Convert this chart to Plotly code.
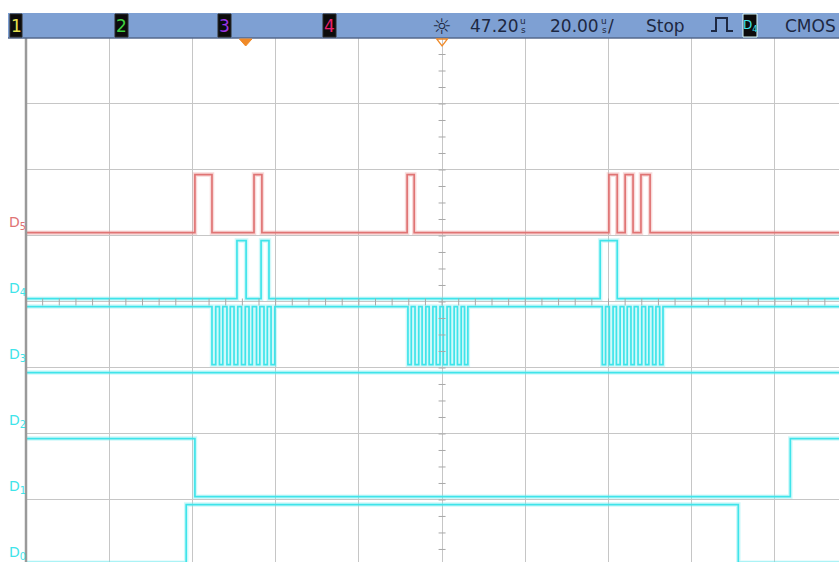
import plotly.graph_objects as go

# time axis in microseconds from screen centre, 20 us/div, delay 47.20 us
x_min, x_max = -100, 95.4
y_min, y_max = 0.06, 8
trigger_time = -47.2

channel_names = ["D0", "D1", "D2", "D3", "D4", "D5"]

# start level (0 = low, 1 = high) and toggle times (us) of each digital line
d0_start = 0
d0_edges = [-61.5, 71.2]
d1_start = 1
d1_edges = [-59.4, 83.7]
d2_start = 1
d2_edges = []
d3_start = 1
d3_edges = [
    -55.3, -54.4, -53.5, -52.7, -51.7, -50.9, -50.0, -49.1, -48.2, -47.3,
    -46.4, -45.6, -44.6, -43.8, -42.8, -42.0, -41.1, -40.2,
    -8.2, -7.4, -6.5, -5.6, -4.8, -3.9, -3.1, -2.2, -1.4, -0.5,
    0.3, 1.2, 2.0, 2.9, 3.7, 4.6, 5.4, 6.2,
    38.5, 39.3, 40.2, 41.1, 41.9, 42.8, 43.7, 44.5, 45.4, 46.2,
    47.1, 48.0, 48.9, 49.7, 50.6, 51.4, 52.3, 53.1,
]
d4_start = 0
d4_edges = [-49.3, -47.1, -43.5, -41.6, 38.0, 42.1]
d5_start = 0
d5_edges = [-59.4, -55.3, -45.2, -43.3, -8.4, -6.7, 40.1, 42.1, 44.0, 45.9, 47.8, 50.0]

starts = [d0_start, d1_start, d2_start, d3_start, d4_start, d5_start]
edges = [d0_edges, d1_edges, d2_edges, d3_edges, d4_edges, d5_edges]

W, H = 839, 562
L, T = 26, 38


def px(xp):
    # window pixel -> paper x
    return (xp - L) / (W - L)


def py(yp):
    # window pixel -> paper y
    return (H - yp) / (H - T)


fig = go.Figure()

cyan, cyan_halo = "#3fe4ea", "rgba(120,238,240,0.35)"
red, red_halo = "#e07474", "rgba(236,150,150,0.35)"

# Waveforms
for k, name in enumerate(channel_names):
    lvl = starts[k]
    xs = [x_min]
    ys = []
    for e in edges[k]:
        ys.append(lvl)
        xs.append(e)
        lvl = 1 - lvl
    ys.append(lvl)
    xs.append(x_max)
    ys.append(lvl)
    ys = [k + (0.93 if v else 0.05) for v in ys]
    core, halo = (red, red_halo) if name == "D5" else (cyan, cyan_halo)
    fig.add_trace(go.Scatter(x=xs, y=ys, mode="lines", line=dict(color=halo, width=4.5, shape="hv"),
                             hoverinfo="skip", showlegend=False))
    fig.add_trace(go.Scatter(x=xs, y=ys, mode="lines", line=dict(color=core, width=1.7, shape="hv"),
                             name=name, showlegend=False))

# Minor tick marks on the centre cross
hx = [x_min + 4 * i for i in range(int((x_max - x_min) / 4) + 1)]
fig.add_trace(go.Scatter(x=hx, y=[4] * len(hx), mode="markers", hoverinfo="skip", showlegend=False,
                         marker=dict(symbol="line-ns", size=5, line=dict(color="#a8a8a8", width=1))))
vy = [0.25 * i for i in range(1, 32)]
fig.add_trace(go.Scatter(x=[0] * len(vy), y=vy, mode="markers", hoverinfo="skip", showlegend=False,
                         marker=dict(symbol="line-ew", size=5, line=dict(color="#a8a8a8", width=1))))

shapes = []
# left border
shapes.append(dict(type="line", xref="paper", yref="paper", x0=0, x1=0, y0=0, y1=1,
                   line=dict(color="#9a9a9a", width=2.5)))
# header bar
shapes.append(dict(type="rect", xref="paper", yref="paper", x0=px(8), x1=px(845), y0=py(38), y1=py(13),
                   fillcolor="#7ea0d3", line=dict(width=0)))
shapes.append(dict(type="line", xref="paper", yref="paper", x0=px(8), x1=px(845), y0=py(38), y1=py(38),
                   line=dict(color="#55698c", width=1.5)))

num_family = "DejaVu Sans, Verdana"
annotations = []
# channel number boxes
box_specs = [(10, 22, "1", "#e4e050"), (115, 128, "2", "#3fcf3f"), (218, 231, "3", "#9b35e6"),
             (323, 336, "4", "#e8206e")]
for x0, x1, txt, col in box_specs:
    shapes.append(dict(type="rect", xref="paper", yref="paper", x0=px(x0), x1=px(x1), y0=py(37), y1=py(14),
                       fillcolor="#0c0c0c", line=dict(color="#2a2a2a", width=1)))
    annotations.append(dict(xref="paper", yref="paper", x=px((x0 + x1) / 2), y=py(26), text=txt,
                            showarrow=False, font=dict(size=17, color=col, family=num_family),
                            xanchor="center", yanchor="middle"))
# D4 trigger source box
shapes.append(dict(type="rect", xref="paper", yref="paper", x0=px(743), x1=px(757), y0=py(37), y1=py(14),
                   fillcolor="#0c0c0c", line=dict(color="#ddffff", width=1)))
annotations.append(dict(xref="paper", yref="paper", x=px(750), y=py(26), text="D<sub>4</sub>",
                        showarrow=False, font=dict(size=12, color=cyan, family=num_family),
                        xanchor="center", yanchor="middle"))
# edge trigger symbol
shapes.append(dict(type="path", xref="paper", yref="paper",
                   path=f"M {px(711)} {py(31)} L {px(716)} {py(31)} L {px(716)} {py(18)} L {px(727)} {py(18)} "
                        f"L {px(727)} {py(31)} L {px(733)} {py(31)}",
                   line=dict(color="#1d2842", width=2)))
# trigger markers
shapes.append(dict(type="path", xref="x", yref="paper",
                   path=f"M {trigger_time - 1.5} {py(39)} L {trigger_time + 1.5} {py(39)} L {trigger_time} {py(46)} Z",
                   fillcolor="#f08a28", line=dict(color="#f08a28", width=1)))
shapes.append(dict(type="path", xref="x", yref="paper",
                   path=f"M -1.3 {py(39)} L 1.3 {py(39)} L 0 {py(46)} Z",
                   fillcolor="rgba(0,0,0,0)", line=dict(color="#f08a28", width=1.3)))

hdr_font = dict(size=17, color="#1d2842", family=num_family)
small_font = dict(size=9, color="#1d2842", family=num_family)
header_texts = [(442, "☼", 22), (495, "47.20", 17), (574, "20.00", 17), (611, "/", 17),
                (665, "Stop", 17), (810, "CMOS", 17)]
for xc, txt, sz in header_texts:
    annotations.append(dict(xref="paper", yref="paper", x=px(xc), y=py(26), text=txt, showarrow=False,
                            font=dict(hdr_font, size=sz), xanchor="center", yanchor="middle"))
for xc in (523, 604):
    annotations.append(dict(xref="paper", yref="paper", x=px(xc), y=py(21), text="u", showarrow=False,
                            font=small_font, xanchor="center", yanchor="middle"))
    annotations.append(dict(xref="paper", yref="paper", x=px(xc), y=py(30), text="s", showarrow=False,
                            font=small_font, xanchor="center", yanchor="middle"))

# channel labels on the left
for k, name in enumerate(channel_names):
    col = red if name == "D5" else cyan
    annotations.append(dict(xref="paper", yref="y", x=px(7), y=k + 0.2,
                            text=f"D<sub>{name[1]}</sub>", showarrow=False,
                            font=dict(size=14, color=col, family=num_family),
                            xanchor="left", yanchor="middle"))

fig.update_layout(
    width=W, height=H,
    margin=dict(l=L, r=0, t=T, b=0),
    paper_bgcolor="white",
    plot_bgcolor="white",
    shapes=shapes,
    annotations=annotations,
    xaxis=dict(range=[x_min, x_max], tick0=0, dtick=20, showgrid=True, gridcolor="#c6c6c6", gridwidth=1,
               zeroline=False, showticklabels=False, ticks="", showline=False, fixedrange=True),
    yaxis=dict(range=[y_min, y_max], tick0=0, dtick=1, showgrid=True, gridcolor="#c6c6c6", gridwidth=1,
               zeroline=False, showticklabels=False, ticks="", showline=False, fixedrange=True),
)

# drop the page's default body margin so the figure fills the window exactly
fig.write_html("out.html", config={"displayModeBar": False},
               post_script="document.body.style.margin='0';document.body.style.overflow='hidden';")
